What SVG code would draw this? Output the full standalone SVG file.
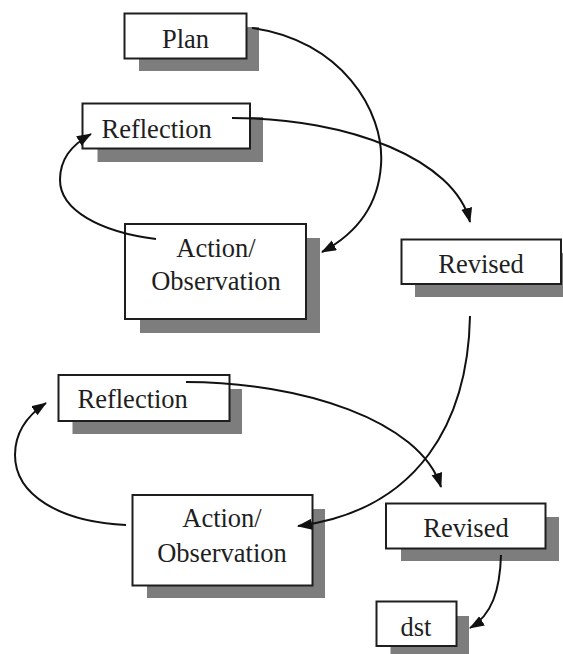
<svg xmlns="http://www.w3.org/2000/svg" width="563" height="654" viewBox="0 0 563 654">
<style>
.sh{fill:#7d7d7d}
.bx{fill:#fff;stroke:#1e1e1e;stroke-width:2}
.t{font-family:"Liberation Serif","Times New Roman",serif;font-size:26.5px;fill:#1e1e1e}
.c{text-anchor:middle}
.ln{fill:none;stroke:#111;stroke-width:2;marker-end:url(#ah)}
</style>
<defs>
<marker id="ah" markerUnits="userSpaceOnUse" markerWidth="16" markerHeight="12" refX="14" refY="5.5" orient="auto">
<path d="M0,0 L15,5.5 L0,11 z" fill="#111"/>
</marker>
</defs>
<rect width="563" height="654" fill="#fff"/>
<g id="plan">
<rect class="sh" x="139" y="27" width="120" height="44"/>
<rect class="bx" x="124.5" y="13.5" width="122" height="45"/>
<text class="t c" x="185.5" y="47.5">Plan</text>
</g>
<g id="reflection1">
<rect class="sh" x="97.5" y="117" width="165.5" height="45"/>
<rect class="bx" x="82.5" y="103.5" width="167.5" height="45"/>
<text class="t" x="101.5" y="137.5">Reflection</text>
</g>
<g id="action1">
<rect class="sh" x="140" y="238" width="180" height="95"/>
<rect class="bx" x="125" y="224" width="181" height="95"/>
<text class="t c" x="216" y="256.5">Action/</text>
<text class="t c" x="216" y="290">Observation</text>
</g>
<g id="revised1">
<rect class="sh" x="415" y="253" width="150" height="44"/>
<rect class="bx" x="401.5" y="239.5" width="159.5" height="44.5"/>
<text class="t c" x="481" y="273">Revised</text>
</g>
<g id="reflection2">
<rect class="sh" x="72.5" y="389" width="169.5" height="45"/>
<rect class="bx" x="58.5" y="375" width="171" height="46"/>
<text class="t" x="77.5" y="408">Reflection</text>
</g>
<g id="action2">
<rect class="sh" x="147" y="509" width="178" height="89"/>
<rect class="bx" x="132.5" y="495" width="180" height="90.5"/>
<text class="t c" x="222" y="527.3">Action/</text>
<text class="t c" x="222" y="561.7">Observation</text>
</g>
<g id="revised2">
<rect class="sh" x="401" y="517" width="158" height="44"/>
<rect class="bx" x="386" y="503.5" width="159.5" height="45"/>
<text class="t c" x="466" y="536.7">Revised</text>
</g>
<g id="dst">
<rect class="sh" x="390.5" y="616" width="78.5" height="40"/>
<rect class="bx" x="376.5" y="601.5" width="80" height="44.5"/>
<text class="t c" x="416" y="635.7">dst</text>
</g>
<g id="connectors">
<path class="ln" d="M252,28 C340,40 385,110 381,165 C378,210 352,236 322,252"/>
<path class="ln" d="M232,118 C350,118 455,160 470,222"/>
<path class="ln" d="M156,239 C100,232 60,210 60,180 C60,160 70,146 91,134"/>
<path class="ln" d="M470,316 C468,420 420,510 298,526"/>
<path class="ln" d="M186,382 C300,382 420,420 441,487"/>
<path class="ln" d="M126,525 C60,522 15,495 15,455 C15,432 28,415 46,403"/>
<path class="ln" d="M501,555 C500,590 492,615 470,628"/>
</g>
</svg>
